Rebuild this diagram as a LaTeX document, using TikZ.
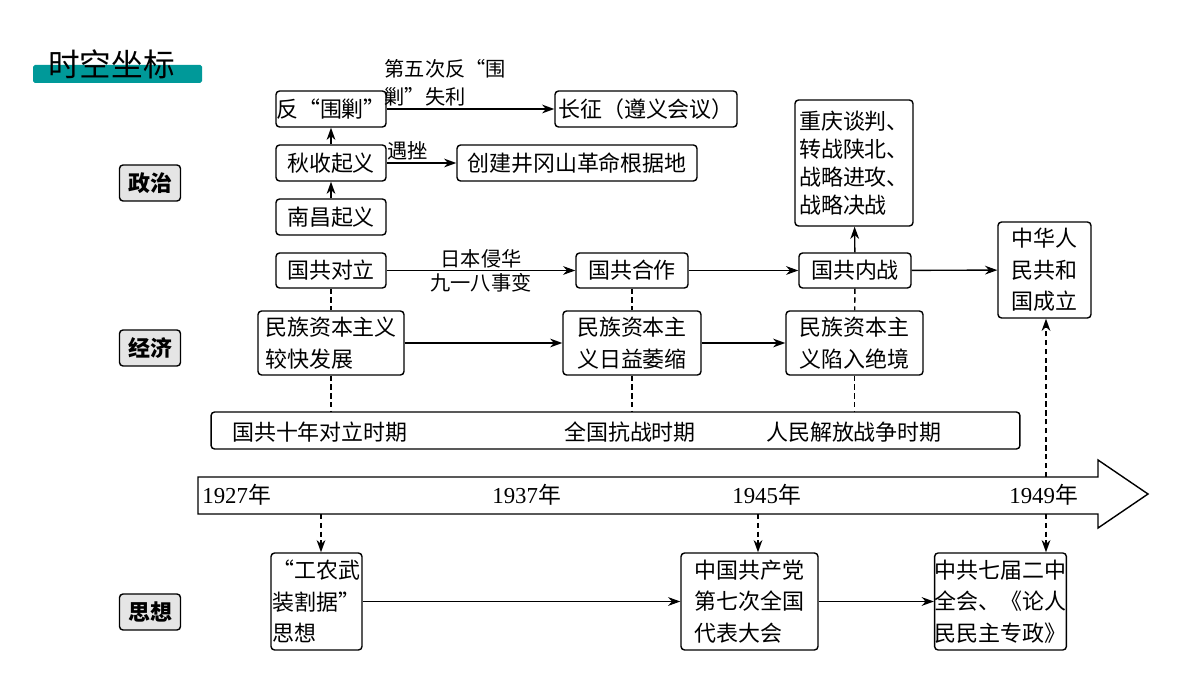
\documentclass[tikz,border=0pt]{standalone}
\usepackage{fontspec}
\setmainfont{Liberation Serif}
\newfontfamily\cjk{Noto Sans CJK SC}
\usetikzlibrary{arrows.meta}
\begin{document}
\begin{tikzpicture}[x=0.02cm,y=-0.02cm,
  bx/.style={draw,thick,rounded corners=2pt,inner sep=0pt,align=left,font=\cjk\fontsize{12.5}{18}\selectfont},
  cat/.style={draw,thick,rounded corners=2pt,fill=black!10,minimum width=1.22cm,minimum height=0.72cm,font=\cjk\bfseries\fontsize{12.5}{15}\selectfont},
  lb/.style={font=\cjk\fontsize{11.5}{16}\selectfont,align=left,inner sep=1pt},
  yr/.style={font=\fontsize{13}{15}\selectfont,anchor=west,inner sep=0pt},
  ar/.style={-{Stealth[length=7pt,width=5pt]},thick},
  dl/.style={thick,dashed,dash pattern=on 3pt off 2pt},
  da/.style={dl,-{Stealth[length=7pt,width=5pt]}}]
\useasboundingbox (0,0) rectangle (1200,675);
% title
\fill[rounded corners=1pt,fill=teal!80!cyan] (33,65) rectangle (202,83);
\node[font=\cjk\fontsize{18}{20}\selectfont,anchor=west] (title) at (42,64) {时空坐标};
% categories
\node[cat] (zz) at (150,183) {政治};
\node[cat] (jj) at (150,348) {经济};
\node[cat] (sx) at (150,612) {思想};
% politics
\node[bx,minimum width=2.2cm,minimum height=0.72cm,align=center] (fwj) at (331,109) {反“围剿”};
\node[bx,minimum width=2.2cm,minimum height=0.72cm,align=center] (qs) at (331,163) {秋收起义};
\node[bx,minimum width=2.2cm,minimum height=0.72cm,align=center] (nc) at (331,217) {南昌起义};
\node[bx,minimum width=2.2cm,minimum height=0.70cm,align=center] (gd) at (331,270.5) {国共对立};
\node[bx,minimum width=3.64cm,minimum height=0.72cm,align=center] (cz) at (646,109) {长征（遵义会议）};
\node[bx,minimum width=4.8cm,minimum height=0.72cm,align=center] (jgs) at (577,163) {创建井冈山革命根据地};
\node[bx,minimum width=2.24cm,minimum height=0.70cm,align=center] (gh) at (632,270.5) {国共合作};
\node[bx,minimum width=2.24cm,minimum height=0.70cm,align=center] (gn) at (855,270.5) {国共内战};
\node[bx,minimum width=2.36cm,minimum height=2.52cm,align=left,font=\cjk\fontsize{12.5}{16}\selectfont] (cq) at (854,163) {重庆谈判、\\转战陕北、\\战略进攻、\\战略决战};
\node[bx,minimum width=1.86cm,minimum height=1.92cm,align=left] (zh) at (1044.5,270) {中华人\\民共和\\国成立};
% economy
\node[bx,minimum width=2.92cm,minimum height=1.28cm] (mz1) at (331,343) {民族资本主义\\较快发展};
\node[bx,minimum width=2.76cm,minimum height=1.28cm] (mz2) at (632,343) {民族资本主\\义日益萎缩};
\node[bx,minimum width=2.74cm,minimum height=1.28cm] (mz3) at (854.5,343) {民族资本主\\义陷入绝境};
% periods
\node[bx,minimum width=16.18cm,minimum height=0.74cm] (per) at (615.5,430.5) {};
\node[lb,anchor=west,font=\cjk\fontsize{12.5}{15}\selectfont] (p1) at (230,432) {国共十年对立时期};
\node[lb,anchor=west,font=\cjk\fontsize{12.5}{15}\selectfont] (p2) at (562,432) {全国抗战时期};
\node[lb,anchor=west,font=\cjk\fontsize{12.5}{15}\selectfont] (p3) at (764,432) {人民解放战争时期};
% timeline
\draw[thick,fill=white] (198,477) -- (1098,477) -- (1098,460) -- (1148,494) -- (1098,528) -- (1098,514) -- (198,514) -- cycle;
\node[yr] (y1) at (202,495) {1927{\cjk 年}};
\node[yr] (y2) at (492,495) {1937{\cjk 年}};
\node[yr] (y3) at (732,495) {1945{\cjk 年}};
\node[yr] (y4) at (1009,495) {1949{\cjk 年}};
\coordinate (t1) at (321,514);
\coordinate (t3) at (758,514);
\coordinate (t4) at (1046,514);
\coordinate (t4u) at (1046,477);
% thought
\node[bx,minimum width=1.82cm,minimum height=1.94cm] (gn2) at (316.5,601.5) {“工农武\\装割据”\\思想};
\node[bx,minimum width=2.74cm,minimum height=1.94cm] (qd) at (749.5,601.5) {中国共产党\\第七次全国\\代表大会};
\node[bx,minimum width=2.54cm,minimum height=1.94cm] (ej) at (1000.5,601.5) {中共七届二中\\全会、《论人\\民民主专政》};
% arrows
\draw[ar] (nc) -- (qs);
\draw[ar] (qs) -- (fwj);
\draw[ar] (qs) -- node[lb,above,pos=0.3] (l1) {遇挫} (jgs);
\draw[ar] (fwj) -- node[lb,above,pos=0.35] (l2) {第五次反“围\\剿”失利} (cz);
\draw[ar] (gd) -- node[lb,above] (l3) {日本侵华} node[lb,below] (l4) {九一八事变} (gh);
\draw[ar] (gh) -- (gn);
\draw[ar] (gn) -- (zh);
\draw[ar] (gn) -- (cq);
\draw[ar] (mz1) -- (mz2);
\draw[ar] (mz2) -- (mz3);
\draw[ar] (gn2) -- (qd);
\draw[ar] (qd) -- (ej);
% dashed
\draw[dl] (gd) -- (mz1); \draw[dl] (mz1) -- (mz1|-per.north);
\draw[dl] (gh) -- (mz2); \draw[dl] (mz2) -- (mz2|-per.north);
\draw[dl] (gn) -- (mz3); \draw[dl] (mz3) -- (mz3|-per.north);
\draw[da] (t1) -- (t1|-gn2.north);
\draw[da] (t3) -- (t3|-qd.north);
\draw[da] (t4) -- (t4|-ej.north);
\draw[da] (t4u) -- (t4u|-zh.south);
\end{tikzpicture}
\end{document}
